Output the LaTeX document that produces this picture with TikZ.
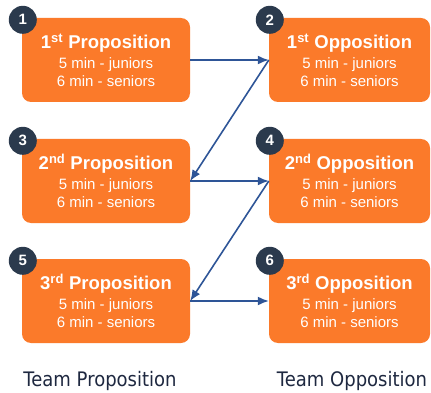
\documentclass[tikz,border=0pt]{standalone}
\usepackage{fontspec}
\setmainfont{Liberation Sans}
\newfontfamily\labelfont[FakeStretch=0.9]{DejaVu Sans}
\usetikzlibrary{arrows.meta}
\definecolor{boxorange}{HTML}{FB7A2A}
\definecolor{badgenavy}{HTML}{2B3A4D}
\definecolor{arrowblue}{HTML}{2E5597}
\definecolor{labelnavy}{HTML}{1E2840}
\newcommand{\speech}[5]{\node [fill=boxorange,rounded corners=9pt,text=white,align=center,minimum width=#4pt,minimum height=84pt,inner sep=0pt,font=\fontsize{15}{18}\selectfont] (#1) at (#2,#3) {{\fontsize{18.5}{20}\selectfont\bfseries #5}\\[2pt] 5 min - juniors\\ 6 min - seniors};}
\newcommand{\badge}[2]{\node[circle,fill=badgenavy,text=white,minimum size=28pt,inner sep=0pt,font=\fontsize{15}{15}\selectfont\bfseries] at ([xshift=1pt,yshift=-2pt]#1.north west) {#2};}
\newcommand{\turn}[2]{\draw[line width=1.6pt,arrowblue,-{Latex[length=11pt,width=9pt]}] (#1) -- (#2);}

\begin{document}
\begin{tikzpicture}[x=1pt,y=-1pt]
    \useasboundingbox (0,0) rectangle (431,393);
    \speech{P1}{106}{60}{168}{1\textsuperscript{st} Proposition}   \badge{P1}{1}
    \speech{O1}{349.5}{60}{161}{1\textsuperscript{st} Opposition}  \badge{O1}{2}
    \speech{P2}{106}{181}{168}{2\textsuperscript{nd} Proposition}  \badge{P2}{3}
    \speech{O2}{349.5}{181}{161}{2\textsuperscript{nd} Opposition} \badge{O2}{4}
    \speech{P3}{106}{301}{168}{3\textsuperscript{rd} Proposition}  \badge{P3}{5}
    \speech{O3}{349.5}{301}{161}{3\textsuperscript{rd} Opposition} \badge{O3}{6}
    \turn{P1.east}{O1.west}\turn{O1.west}{P2.east}
    \turn{P2.east}{O2.west}\turn{O2.west}{P3.east}
    \turn{P3.east}{O3.west}

    \node[font=\labelfont\fontsize{20}{22}\selectfont,text=labelnavy] (tp) at (100,381) {Team Proposition};
    \node[font=\labelfont\fontsize{20}{22}\selectfont,text=labelnavy] (to) at (352,381) {Team Opposition};
\end{tikzpicture}
\end{document}
